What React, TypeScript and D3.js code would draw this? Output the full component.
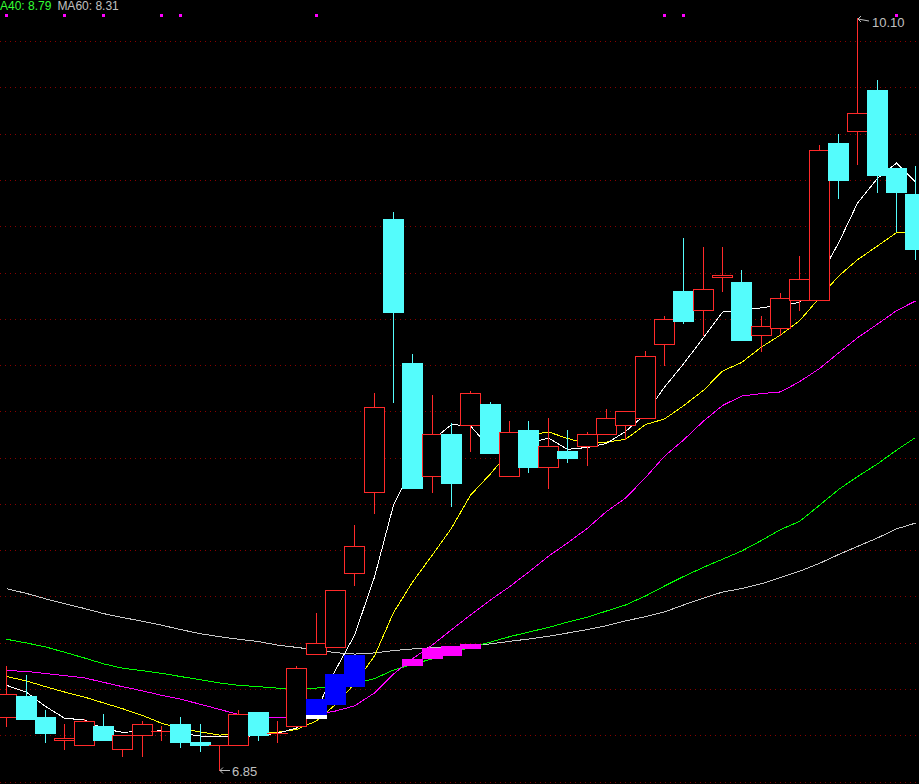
import React from 'react';
import * as d3 from 'd3';

// ---- Candle data (48 bars) ----
const open = [7.08, 7.17, 7.08, 6.98, 6.96, 7.04, 6.94, 7.00, 7.02, 7.05, 6.97, 6.96, 6.96, 7.10, 7.01, 7.04, 7.35, 7.38, 7.70, 8.05, 9.23, 8.61, 8.12, 8.30, 8.34, 8.43, 8.12, 8.32, 8.16, 8.23, 8.25, 8.30, 8.34, 8.37, 8.69, 8.92, 8.84, 8.98, 8.96, 8.73, 8.76, 8.88, 8.88, 9.56, 9.61, 9.79, 9.45, 9.34];
const high = [7.30, 7.26, 7.11, 7.05, 7.07, 7.09, 7.00, 7.06, 7.04, 7.08, 7.05, 6.96, 7.11, 7.10, 7.06, 7.30, 7.53, 7.63, 7.91, 8.48, 9.26, 8.65, 8.47, 8.35, 8.49, 8.44, 8.36, 8.36, 8.37, 8.32, 8.31, 8.41, 8.40, 8.66, 8.81, 9.15, 9.11, 9.11, 9.01, 8.81, 8.91, 9.07, 9.55, 9.60, 10.10, 9.83, 9.45, 9.46];
const low = [7.04, 7.07, 6.97, 6.94, 6.96, 6.98, 6.91, 6.91, 6.98, 6.95, 6.93, 6.85, 6.96, 6.98, 6.97, 7.04, 7.35, 7.38, 7.65, 7.96, 8.44, 8.07, 8.05, 7.99, 8.23, 8.22, 8.12, 8.14, 8.07, 8.18, 8.17, 8.30, 8.28, 8.37, 8.60, 8.78, 8.73, 8.92, 8.71, 8.66, 8.73, 8.84, 8.88, 9.32, 9.47, 9.35, 9.18, 9.06];
const close = [7.18, 7.07, 7.01, 6.99, 7.06, 6.98, 7.00, 7.05, 7.02, 6.97, 6.96, 6.96, 7.09, 7.00, 7.01, 7.29, 7.40, 7.63, 7.82, 8.42, 8.83, 8.07, 8.30, 8.09, 8.48, 8.22, 8.31, 8.16, 8.25, 8.20, 8.30, 8.37, 8.40, 8.64, 8.80, 8.79, 8.93, 8.99, 8.71, 8.77, 8.89, 8.97, 9.53, 9.40, 9.69, 9.42, 9.35, 9.10];

// ---- Moving averages ----
const ma5 = [7.216, 7.186, 7.125, 7.074, 7.066, 7.028, 7.013, 7.017, 7.019, 7.009, 6.997, 6.993, 6.994, 6.999, 7.009, 7.031, 7.108, 7.282, 7.432, 7.684, 7.995, 8.160, 8.276, 8.343, 8.337, 8.240, 8.270, 8.260, 8.285, 8.236, 8.244, 8.261, 8.313, 8.388, 8.505, 8.605, 8.719, 8.829, 8.840, 8.847, 8.860, 8.870, 8.979, 9.127, 9.300, 9.407, 9.473, 9.391];
const ma10 = [7.254, 7.235, 7.210, 7.187, 7.165, 7.140, 7.115, 7.086, 7.052, 7.031, 7.014, 7.001, 7.003, 7.007, 7.013, 7.025, 7.062, 7.133, 7.222, 7.343, 7.530, 7.662, 7.780, 7.895, 8.038, 8.130, 8.227, 8.296, 8.311, 8.283, 8.259, 8.267, 8.279, 8.343, 8.367, 8.424, 8.491, 8.574, 8.611, 8.678, 8.730, 8.791, 8.891, 8.984, 9.055, 9.115, 9.172, 9.175];
const ma20 = [7.280, 7.276, 7.267, 7.258, 7.248, 7.229, 7.210, 7.192, 7.173, 7.156, 7.134, 7.112, 7.090, 7.081, 7.075, 7.079, 7.091, 7.105, 7.127, 7.183, 7.265, 7.331, 7.391, 7.456, 7.520, 7.585, 7.642, 7.705, 7.774, 7.831, 7.895, 7.967, 8.025, 8.114, 8.206, 8.276, 8.358, 8.425, 8.466, 8.477, 8.484, 8.528, 8.585, 8.652, 8.718, 8.777, 8.835, 8.877];
const ma40 = [7.415, 7.399, 7.382, 7.359, 7.334, 7.309, 7.290, 7.279, 7.268, 7.254, 7.240, 7.226, 7.216, 7.210, 7.204, 7.204, 7.204, 7.211, 7.223, 7.245, 7.282, 7.306, 7.331, 7.357, 7.379, 7.403, 7.426, 7.446, 7.466, 7.489, 7.511, 7.537, 7.563, 7.602, 7.645, 7.686, 7.726, 7.761, 7.796, 7.842, 7.889, 7.924, 7.994, 8.062, 8.118, 8.173, 8.232, 8.287];
const ma60 = [7.634, 7.613, 7.590, 7.569, 7.548, 7.526, 7.509, 7.493, 7.476, 7.457, 7.439, 7.426, 7.415, 7.405, 7.390, 7.380, 7.369, 7.357, 7.351, 7.356, 7.366, 7.373, 7.379, 7.384, 7.388, 7.395, 7.406, 7.416, 7.428, 7.442, 7.457, 7.474, 7.494, 7.513, 7.533, 7.563, 7.593, 7.619, 7.634, 7.655, 7.682, 7.709, 7.743, 7.781, 7.816, 7.853, 7.892, 7.917];

// ---- Signal bars: [bar index, top price, bottom price] ----
const blueBars = [[16, 7.157, 7.088], [17, 7.265, 7.131], [18, 7.347, 7.209]];
const whiteBars = [[16, 7.088, 7.070]];
const pinkBars = [[21, 7.330, 7.299], [22, 7.377, 7.330], [23, 7.386, 7.343], [24, 7.394, 7.373]];
const topMarkers = [0, 3, 5, 8, 9, 16, 34, 35, 46];

// ---- Grid levels and labels ----
const gridLevels = [6.8, 7.0, 7.2, 7.4, 7.6, 7.8, 8.0, 8.2, 8.4, 8.6, 8.8, 9.0, 9.2, 9.4, 9.6, 9.8, 10.0];
const legendItems = [
  { text: 'A40: 8.79', color: '#33ff33' },
  { text: 'MA60: 8.31', color: '#c0c0c0' },
];
const highLabel = '10.10';
const lowLabel = '6.85';

const W = 919;
const H = 784;
const RED = '#ff2a2a';
const CYAN = '#54fcfc';

export default function App() {
  const x = d3.scaleLinear().domain([0, open.length - 1]).range([6.3, 915.3]);
  const y = d3.scaleLinear().domain([6.85, 10.10]).range([770, 18]);
  const line = d3.line<number>().x((_, i) => Math.round(x(i)) + 0.5).y((d) => y(d));

  const maSeries = [
    { data: ma60, color: '#c8c8c8' },
    { data: ma40, color: '#00ff00' },
    { data: ma20, color: '#ff00ff' },
    { data: ma10, color: '#ffff00' },
    { data: ma5, color: '#ffffff' },
  ];

  const hiIdx = high.indexOf(d3.max(high) as number);
  const loIdx = low.indexOf(d3.min(low) as number);

  return (
    <svg
      width={W}
      height={H}
      style={{ position: 'absolute', left: 0, top: 0, background: '#000', display: 'block' }}
      fontFamily="Arial, 'Liberation Sans', sans-serif"
    >
      <rect x={0} y={0} width={W} height={H} fill="#000" />
      {gridLevels.map((g) => (
        <line
          key={g}
          x1={0}
          x2={W}
          y1={Math.round(y(g)) + 0.5}
          y2={Math.round(y(g)) + 0.5}
          stroke="#8a0000"
          strokeDasharray="1 4"
          shapeRendering="crispEdges"
        />
      ))}
      {maSeries.map((s, k) => (
        <path key={k} d={line(s.data) || ''} fill="none" stroke={s.color} strokeWidth={1} shapeRendering="crispEdges" />
      ))}
      {open.map((o, i) => {
        const c = close[i];
        const cx = Math.round(x(i));
        const yo = Math.round(y(o));
        const yc = Math.round(y(c));
        const yh = Math.round(y(high[i]));
        const yl = Math.round(y(low[i]));
        if (c >= o) {
          const top = Math.min(yo, yc);
          const bot = Math.max(yo, yc);
          return (
            <g key={i} shapeRendering="crispEdges">
              {yh < top && <line x1={cx + 0.5} x2={cx + 0.5} y1={yh} y2={top} stroke={RED} />}
              {yl > bot && <line x1={cx + 0.5} x2={cx + 0.5} y1={bot} y2={yl + 1} stroke={RED} />}
              {bot - top >= 1 ? (
                <rect x={cx - 10 + 0.5} y={top + 0.5} width={20} height={bot - top} fill="#000" stroke={RED} />
              ) : (
                <line x1={cx - 10} x2={cx + 11} y1={top + 0.5} y2={top + 0.5} stroke={RED} />
              )}
            </g>
          );
        }
        return (
          <g key={i} shapeRendering="crispEdges">
            <line x1={cx + 0.5} x2={cx + 0.5} y1={yh} y2={yl + 1} stroke={CYAN} />
            <rect x={cx - 10} y={yo} width={21} height={Math.max(1, yc - yo + 1)} fill={CYAN} />
          </g>
        );
      })}
      {[
        { bars: blueBars, color: '#0000ff' },
        { bars: whiteBars, color: '#ffffff' },
        { bars: pinkBars, color: '#ff00ff' },
      ].map((grp, k) =>
        grp.bars.map(([i, t, b]) => {
          const cx = Math.round(x(i));
          return (
            <rect
              key={`${k}-${i}`}
              x={cx - 10}
              y={Math.round(y(t))}
              width={21}
              height={Math.round(y(b)) - Math.round(y(t))}
              fill={grp.color}
              shapeRendering="crispEdges"
            />
          );
        })
      )}
      {topMarkers.map((i) => (
        <rect key={i} x={Math.round(x(i)) - 1} y={14} width={3} height={3} fill="#ff00ff" shapeRendering="crispEdges" />
      ))}
      <text x={0} y={10} fontSize={12}>
        {legendItems.map((l, k) => (
          <tspan key={k} fill={l.color} dx={k === 0 ? 0 : 6}>
            {l.text}
          </tspan>
        ))}
      </text>
      {/* highest high marker */}
      <g stroke="#c0c0c0" fill="none" strokeWidth={1}>
        <path d={`M${Math.round(x(hiIdx)) + 1},${Math.round(y(high[hiIdx])) + 1} L${Math.round(x(hiIdx)) + 12},${Math.round(y(high[hiIdx])) + 3}`} />
        <path d={`M${Math.round(x(hiIdx)) + 4},${Math.round(y(high[hiIdx])) - 2} L${Math.round(x(hiIdx)) + 1},${Math.round(y(high[hiIdx])) + 1} L${Math.round(x(hiIdx)) + 4},${Math.round(y(high[hiIdx])) + 4}`} />
      </g>
      <text x={Math.round(x(hiIdx)) + 15} y={Math.round(y(high[hiIdx])) + 9} fontSize={13} fill="#c0c0c0">
        {highLabel}
      </text>
      {/* lowest low marker */}
      <g stroke="#c0c0c0" fill="none" strokeWidth={1}>
        <path d={`M${Math.round(x(loIdx)) + 1},${Math.round(y(low[loIdx])) + 0.5} L${Math.round(x(loIdx)) + 11},${Math.round(y(low[loIdx])) + 0.5}`} />
        <path d={`M${Math.round(x(loIdx)) + 4},${Math.round(y(low[loIdx])) - 2.5} L${Math.round(x(loIdx)) + 1},${Math.round(y(low[loIdx])) + 0.5} L${Math.round(x(loIdx)) + 4},${Math.round(y(low[loIdx])) + 3.5}`} />
      </g>
      <text x={Math.round(x(loIdx)) + 13} y={Math.round(y(low[loIdx])) + 6} fontSize={13} fill="#c0c0c0">
        {lowLabel}
      </text>
    </svg>
  );
}
